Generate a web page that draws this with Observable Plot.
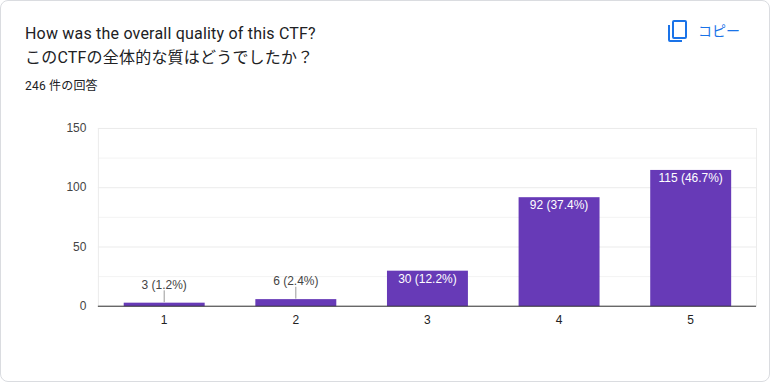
<!DOCTYPE html>
<html><head><meta charset="utf-8">
<script src="https://cdn.jsdelivr.net/npm/d3@7"></script>
<script src="https://cdn.jsdelivr.net/npm/@observablehq/plot@0.6"></script>
<style>
html,body{margin:0;padding:0;background:#fff;}
#card{position:relative;width:768px;height:380px;border:1px solid #dadce0;border-radius:8px;overflow:hidden;background:#fff;}
#card div{position:absolute;white-space:nowrap;font-family:Roboto,"Noto Sans CJK JP",sans-serif;color:#202124;}
#t1{left:24px;top:21px;font-size:16px;line-height:24px;letter-spacing:.2px;}
#t2{left:24px;top:45px;font-size:16px;line-height:24px;letter-spacing:.2px;}
#t3{left:24px;top:77px;font-size:12px;line-height:16px;letter-spacing:.2px;}
#copy{left:697px;top:21px;font-size:14px;line-height:18px;color:#1a73e8 !important;}
#icon{left:664px;top:18px;width:24px;height:24px;}
#chart{left:-1px;top:99px;}
svg{display:block;}
</style></head><body>
<div id="card">
<div id="t1">How was the overall quality of this CTF?</div>
<div id="t2">このCTFの全体的な質はどうでしたか？</div>
<div id="t3">246 件の回答</div>
<div id="icon"><svg width="24" height="24" viewBox="0 0 24 24" fill="#1a73e8"><path d="M3 6h2v15h12v2H5a2 2 0 0 1-2-2z"/><path fill-rule="evenodd" d="M9 1h11a2 2 0 0 1 2 2v15a2 2 0 0 1-2 2H9a2 2 0 0 1-2-2V3a2 2 0 0 1 2-2zm0 2v15h11V3z"/></svg></div>
<div id="copy">コピー</div>
<div id="chart"></div>
</div>
<script>
const categories = ["1","2","3","4","5"];
const counts = [3,6,30,92,115];
const percents = ["1.2%","2.4%","12.2%","37.4%","46.7%"];
const majorTicks = [0,50,100,150];
const minorTicks = [25,75,125];
const rows = categories.map((c,i)=>({cat:c,count:counts[i],label:`${counts[i]} (${percents[i]})`}));
const small = rows.filter(d=>d.count<20), big = rows.filter(d=>d.count>=20);
const font = '"Liberation Sans",Arial,sans-serif';
const plot = Plot.plot({
  width:770,height:260,
  marginLeft:98,marginRight:13,marginTop:28,marginBottom:54,
  style:{fontFamily:font,fontSize:"12px",background:"transparent",overflow:"visible"},
  x:{domain:categories,paddingInner:0.385,paddingOuter:0.1925,round:false,label:null,tickSize:0,tickPadding:7},
  y:{domain:[0,150],ticks:majorTicks,label:null,tickSize:0,tickPadding:8},
  marks:[
    Plot.ruleY(minorTicks,{stroke:"#f3f3f3"}),
    Plot.ruleY(majorTicks,{stroke:"#ebebeb"}),
    Plot.frame({stroke:"#ebebeb",anchor:"left"}),
    Plot.frame({stroke:"#ebebeb",anchor:"right"}),
    Plot.axisY({ticks:majorTicks,tickSize:0,tickPadding:12,label:null,color:"#444",fontSize:12,dy:-0.25}),
    Plot.axisX({tickSize:0,tickPadding:9,label:null,color:"#222",fontSize:12}),
    Plot.barY(rows,{x:"cat",y:"count",fill:"#673ab7",dx:0.5,dy:0.5}),
    Plot.ruleY([0],{stroke:"#333"}),
    Plot.ruleX(small,{x:"cat",y1:"count",y2:d=>d.count+10,stroke:"#999"}),
    Plot.text(small,{x:"cat",y:d=>d.count+10,text:"label",dy:-6,fill:"#444",fontSize:12}),
    Plot.text(big,{x:"cat",y:"count",text:"label",dy:8,fill:"#fff",fontSize:12})
  ]
});
document.getElementById("chart").appendChild(plot);
</script>
</body></html>
